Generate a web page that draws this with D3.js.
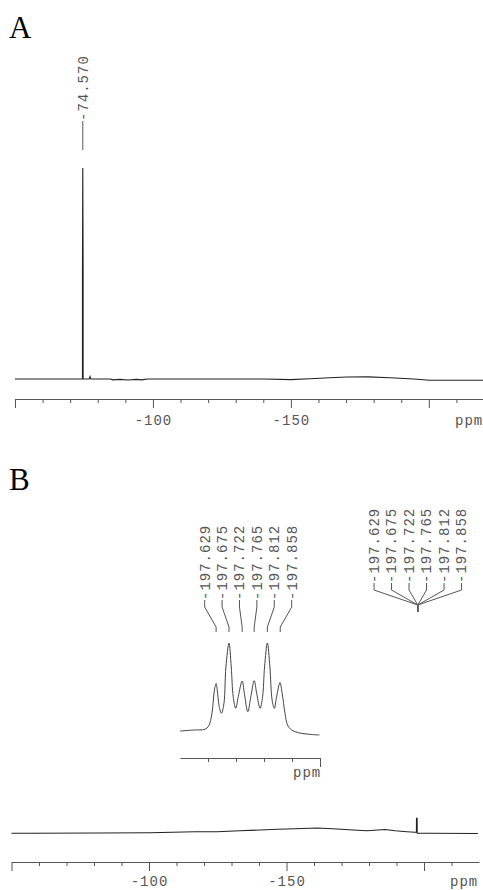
<!DOCTYPE html>
<html>
<head>
<meta charset="utf-8">
<script src="https://cdn.jsdelivr.net/npm/d3@7"></script>
<style>
  html, body { margin: 0; padding: 0; background: #fff; }
  svg { display: block; }
  .mono { font-family: "Liberation Mono", "Courier New", monospace; font-size: 14px; letter-spacing: 1px; fill: #555; }
  .panel { font-family: "Liberation Serif", "Times New Roman", serif; font-size: 31px; fill: #000; }
</style>
</head>
<body>
<svg id="chart" width="483" height="890"></svg>
<script>
// ---------------- DATA ----------------
// Panel A spectrum: [ppm, intensity]
const spectrumA = [
  [-50, 0], [-74.3, 0], [-74.45, 0], [-74.45, 50], [-74.57, 100], [-74.69, 50], [-74.69, 0],
  [-76.9, 0], [-77.2, 1.2], [-77.5, 0], [-84.5, 0], [-85.5, -0.4], [-88, -0.2], [-91, -0.5],
  [-94, -0.2], [-96, -0.4], [-98, 0], [-140, 0], [-150, -0.3], [-156.9, 0.1], [-164.1, 0.6],
  [-170.3, 0.95], [-178, 1.0], [-185.9, 0.6], [-193.1, 0.1], [-200.4, -0.6], [-210, -0.6], [-220, -0.6]
];
const peakPpmA = [-74.570];
const peakLabelsA = ["-74.570"];

// Panel B spectrum: [ppm, intensity]
const spectrumB = [
  [-50, 0], [-56.7, 0], [-82.2, 0.3], [-100.4, 0.6], [-116.7, 1.6], [-124.7, 1.6],
  [-133.1, 2.6], [-146.9, 4.0], [-153.1, 4.6], [-161.1, 5.3], [-166.9, 4.6], [-174.2, 3.3],
  [-179.3, 2.6], [-185.8, 3.8], [-189.5, 2.6], [-193.8, 1.6], [-196.7, 1.0], [-197.25, 1.0],
  [-197.27, 15], [-197.5, 15], [-197.53, 0], [-198.5, 0], [-202.2, 0], [-219.6, -0.2]
];

// Panel B inset (expanded multiplet): [ppm, intensity]
const insetSpectrum = [
  [-197.500, 4.3], [-197.548, 5.4], [-197.589, 6.2], [-197.601, 9.1], [-197.611, 18],
  [-197.617, 30.8], [-197.623, 49], [-197.629, 56], [-197.633, 49], [-197.640, 31],
  [-197.648, 23.6], [-197.657, 34.5], [-197.664, 74], [-197.675, 100], [-197.683, 74],
  [-197.690, 41.6], [-197.699, 29], [-197.708, 41.6], [-197.722, 58.7], [-197.730, 45],
  [-197.742, 25.3], [-197.753, 41.6], [-197.765, 59], [-197.774, 45], [-197.786, 29],
  [-197.795, 41.6], [-197.802, 74], [-197.812, 100], [-197.821, 74], [-197.829, 38],
  [-197.837, 29], [-197.845, 41.6], [-197.857, 57], [-197.865, 45], [-197.875, 23.6],
  [-197.884, 10.9], [-197.899, 5.4], [-197.923, 2.5], [-197.964, 0.7], [-197.998, 0]
];
const peakPpmB = [-197.629, -197.675, -197.722, -197.765, -197.812, -197.858];
const peakLabelsB = ["-197.629", "-197.675", "-197.722", "-197.765", "-197.812", "-197.858"];

const majorTicks = [-50, -100, -150, -200];
const labeledTicks = [-100, -150];
const minorTicks = [-60, -70, -80, -90, -110, -120, -130, -140, -160, -170, -180, -190, -210];
const insetTicks = [-197.6, -197.7, -197.8, -197.9];
const insetEndTick = [-198.0];
const axisUnit = "ppm";
const panelLetters = ["A", "B"];

// ---------------- DRAW ----------------
const svg = d3.select("#chart");
const ink = "#222", axisCol = "#555";

function mainAxis(g, x, y0, labelY) {
  const gMaj = g.append("g").attr("transform", `translate(0,${y0})`)
    .call(d3.axisBottom(x).tickValues(majorTicks).tickSize(9).tickSizeOuter(0)
      .tickFormat(d => labeledTicks.includes(d) ? String(d) : ""));
  gMaj.select(".domain").attr("stroke", axisCol);
  gMaj.selectAll(".tick line").attr("stroke", axisCol);
  gMaj.selectAll(".tick text").attr("class", "mono").attr("y", labelY).attr("dy", 0)
    .attr("font-family", null).attr("font-size", null);
  const gMin = g.append("g").attr("transform", `translate(0,${y0})`)
    .call(d3.axisBottom(x).tickValues(minorTicks).tickSize(4).tickSizeOuter(0).tickFormat(""));
  gMin.select(".domain").remove();
  gMin.selectAll(".tick line").attr("stroke", axisCol);
}

// Panel A
const xA = d3.scaleLinear().domain([-50, -220]).range([15, 484]);
const yA = d3.scaleLinear().domain([0, 100]).range([379, 168]);
svg.append("text").attr("class", "panel").attr("x", 9).attr("y", 38).text(panelLetters[0]);
svg.append("path").datum(spectrumA)
  .attr("fill", "none").attr("stroke", ink).attr("stroke-width", 1.1)
  .attr("d", d3.line().x(d => xA(d[0])).y(d => yA(d[1])));
mainAxis(svg.append("g"), xA, 399, 26);
svg.append("text").attr("class", "mono").attr("x", 455).attr("y", 425).text(axisUnit);
peakPpmA.forEach((p, i) => {
  const px = xA(p);
  svg.append("text").attr("class", "mono")
    .attr("transform", `translate(${px},121) rotate(-90)`).attr("dy", "0.35em")
    .text(peakLabelsA[i]);
  svg.append("line").attr("x1", px).attr("x2", px).attr("y1", 121).attr("y2", 150)
    .attr("stroke", axisCol).attr("stroke-width", 1);
});

// Panel B
const xB = d3.scaleLinear().domain([-50, -220]).range([11.5, 479]);
const yB = d3.scaleLinear().domain([0, 10]).range([833.3, 823.3]);
svg.append("text").attr("class", "panel").attr("x", 9).attr("y", 490).text(panelLetters[1]);
svg.append("path").datum(spectrumB)
  .attr("fill", "none").attr("stroke", ink).attr("stroke-width", 1.1)
  .attr("d", d3.line().x(d => xB(d[0])).y(d => yB(d[1])));
mainAxis(svg.append("g"), xB, 862, 24);
svg.append("text").attr("class", "mono").attr("x", 450).attr("y", 886).text(axisUnit);

// right-hand label group converging to the main B peak
const conv = xB(d3.mean(peakPpmB));
const spacing = 17.5;
peakLabelsB.forEach((t, i) => {
  const lx = conv + (i - (peakLabelsB.length - 1) / 2) * spacing;
  svg.append("text").attr("class", "mono")
    .attr("transform", `translate(${lx},583) rotate(-90)`).attr("dy", "0.35em").text(t);
  svg.append("path").attr("fill", "none").attr("stroke", axisCol).attr("stroke-width", 1)
    .attr("d", `M${lx},583 L${lx},590 L${conv},605 L${conv},612`);
});

// inset
const xI = d3.scaleLinear().domain([-197.5, -198.0]).range([180, 320]);
const yI = d3.scaleLinear().domain([0, 100]).range([735, 643]);
svg.append("path").datum(insetSpectrum)
  .attr("fill", "none").attr("stroke", "#444").attr("stroke-width", 1)
  .attr("d", d3.line().curve(d3.curveCatmullRom.alpha(0.5)).x(d => xI(d[0])).y(d => yI(d[1])));
const gI = svg.append("g").attr("transform", "translate(0,758)")
  .call(d3.axisBottom(xI).tickValues(insetTicks).tickSize(4).tickSizeOuter(0).tickFormat(""));
gI.select(".domain").attr("stroke", axisCol);
gI.selectAll(".tick line").attr("stroke", axisCol);
const gI2 = svg.append("g").attr("transform", "translate(0,758)")
  .call(d3.axisBottom(xI).tickValues(insetEndTick).tickSize(9).tickSizeOuter(0).tickFormat(""));
gI2.select(".domain").remove();
gI2.selectAll(".tick line").attr("stroke", axisCol);
svg.append("text").attr("class", "mono").attr("x", 293).attr("y", 777).text(axisUnit);

const insetCenter = (xI(peakPpmB[0]) + xI(peakPpmB[peakPpmB.length - 1])) / 2;
peakLabelsB.forEach((t, i) => {
  const lx = insetCenter + (i - (peakLabelsB.length - 1) / 2) * 17.4;
  const px = xI(peakPpmB[i]);
  svg.append("text").attr("class", "mono")
    .attr("transform", `translate(${lx},600) rotate(-90)`).attr("dy", "0.35em").text(t);
  svg.append("path").attr("fill", "none").attr("stroke", axisCol).attr("stroke-width", 1)
    .attr("d", `M${lx},600 L${lx},607 L${px},627 L${px},632`);
});
</script>
</body>
</html>
